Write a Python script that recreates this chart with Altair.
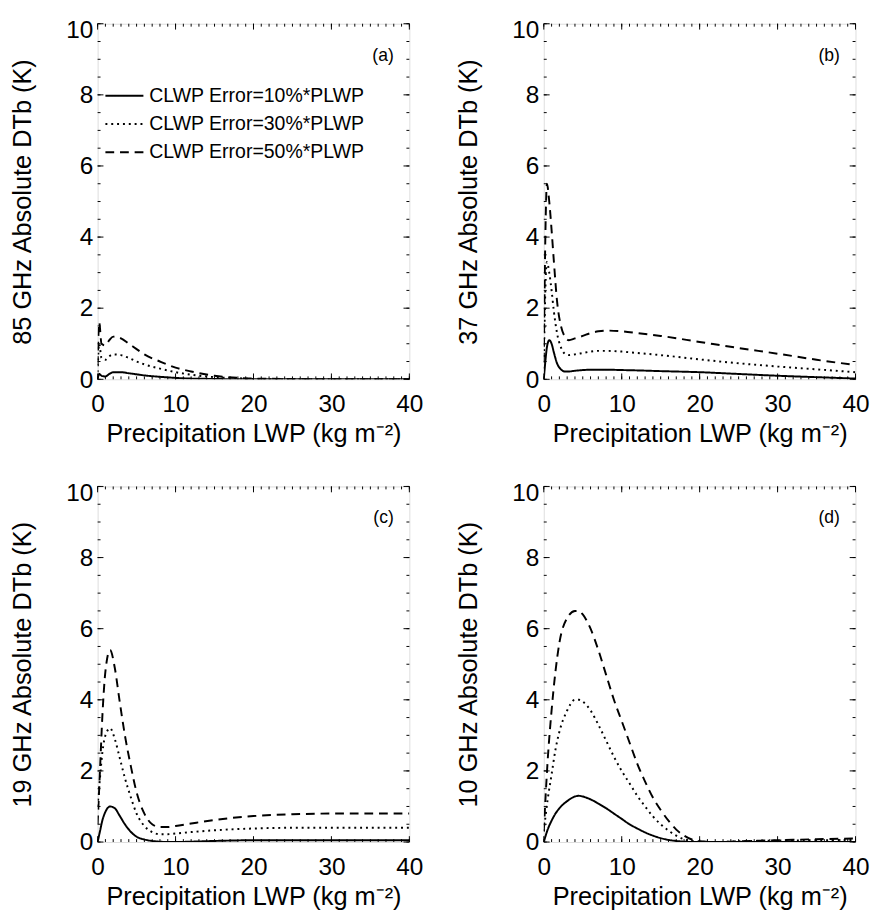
import altair as alt
import pandas as pd

SERIES = ["CLWP Error=10%*PLWP", "CLWP Error=30%*PLWP", "CLWP Error=50%*PLWP"]
DASHES = [[1, 0], [2, 4], [9, 6]]

# ---- panel (a) 85 GHz
A_X = [0, 0.2, 0.5, 1, 1.5, 2, 3, 4, 5, 6, 8, 10, 12, 15, 18, 20, 25, 30, 35, 40]
A_10 = [0.0, 0.15, 0.1, 0.08, 0.15, 0.2, 0.2, 0.17, 0.14, 0.11, 0.07, 0.04, 0.02, 0.01, 0, 0, 0, 0, 0, 0]
A_30 = [0.2, 1.0, 0.6, 0.55, 0.65, 0.7, 0.68, 0.6, 0.5, 0.42, 0.3, 0.2, 0.13, 0.06, 0.03, 0.01, 0, 0, 0, 0]
A_50 = [0.4, 1.6, 1.0, 0.95, 1.1, 1.2, 1.15, 1.0, 0.85, 0.7, 0.5, 0.33, 0.22, 0.1, 0.04, 0.02, 0.01, 0, 0, 0]

# ---- panel (b) 37 GHz
B_X = [0, 0.2, 0.4, 0.7, 1.0, 1.3, 1.7, 2.2, 2.7, 3.2, 4, 5, 6, 7, 8, 10, 12, 15, 20, 25, 30, 35, 40]
B_10 = [0.0, 0.5, 0.9, 1.1, 1.0, 0.75, 0.45, 0.28, 0.22, 0.22, 0.24, 0.26, 0.27, 0.27, 0.27, 0.26, 0.25, 0.23, 0.2, 0.15, 0.1, 0.06, 0.02]
B_30 = [0.3, 2.5, 3.3, 3.0, 2.5, 1.9, 1.3, 0.9, 0.72, 0.68, 0.7, 0.74, 0.78, 0.8, 0.8, 0.78, 0.74, 0.68, 0.56, 0.45, 0.36, 0.28, 0.2]
B_50 = [0.5, 4.0, 5.5, 5.0, 4.2, 3.3, 2.2, 1.5, 1.2, 1.1, 1.15, 1.22, 1.3, 1.35, 1.37, 1.35, 1.3, 1.22, 1.05, 0.88, 0.72, 0.55, 0.4]

# ---- panel (c) 19 GHz
C_X = [0, 0.3, 0.6, 1.0, 1.6, 2.2, 2.8, 3.5, 4.2, 5, 6, 7, 8, 9, 10, 12, 15, 20, 25, 30, 35, 40]
C_10 = [0.0, 0.3, 0.6, 0.85, 1.0, 0.95, 0.75, 0.5, 0.3, 0.15, 0.07, 0.03, 0.01, 0, 0, 0.01, 0.03, 0.05, 0.05, 0.05, 0.05, 0.05]
C_30 = [1.0, 1.8, 2.5, 3.0, 3.2, 2.9, 2.4, 1.8, 1.3, 0.8, 0.45, 0.28, 0.22, 0.22, 0.24, 0.28, 0.33, 0.38, 0.4, 0.4, 0.4, 0.4]
C_50 = [0.5, 2.0, 3.5, 4.8, 5.4, 4.9, 4.0, 3.0, 2.2, 1.4, 0.8, 0.5, 0.42, 0.42, 0.45, 0.52, 0.62, 0.73, 0.78, 0.8, 0.8, 0.8]

# ---- panel (d) 10 GHz
D_X = [0, 0.5, 1, 1.5, 2, 3, 4, 4.5, 5, 6, 7, 8, 9, 10, 11, 12, 13, 14, 15, 16, 17, 18, 19, 20, 22, 25, 30, 35, 40]
D_10 = [0.0, 0.35, 0.6, 0.8, 0.95, 1.15, 1.28, 1.3, 1.28, 1.2, 1.08, 0.95, 0.8, 0.65, 0.5, 0.38, 0.27, 0.18, 0.11, 0.06, 0.03, 0.01, 0, 0, 0, 0, 0, 0, 0]
D_30 = [0.3, 1.2, 1.9, 2.6, 3.1, 3.7, 4.0, 4.0, 3.95, 3.7, 3.3, 2.85, 2.4, 2.0, 1.65, 1.3, 1.0, 0.72, 0.5, 0.32, 0.18, 0.08, 0.03, 0.01, 0.0, 0.02, 0.04, 0.05, 0.06]
D_50 = [0.3, 2.3, 3.7, 4.8, 5.6, 6.3, 6.5, 6.5, 6.4, 6.0, 5.4, 4.7, 4.0, 3.4, 2.8, 2.2, 1.7, 1.25, 0.9, 0.6, 0.35, 0.18, 0.07, 0.02, 0.0, 0.02, 0.05, 0.08, 0.1]

PANEL_LABELS = ["(a)", "(b)", "(c)", "(d)"]
Y_TITLES = ["85 GHz Absolute DTb (K)", "37 GHz Absolute DTb (K)",
            "19 GHz Absolute DTb (K)", "10 GHz Absolute DTb (K)"]
X_TITLE = "Precipitation LWP (kg m\u207b\u00b2)"

X_MAJOR = [0, 10, 20, 30, 40]
X_MINOR = list(range(0, 41))
Y_MAJOR = [0, 2, 4, 6, 8, 10]
Y_MINOR = [v / 2 for v in range(0, 21)]

W, H = 320, 365
FONT = "Liberation Sans"
MAJ, MIN = 6, 3

x_scale = alt.Scale(domain=[0, 40], nice=False, zero=False)
y_scale = alt.Scale(domain=[0, 10], nice=False, zero=False)
dash_scale = alt.Scale(domain=SERIES, range=DASHES)


def x_axis():
    return alt.Axis(title=X_TITLE, values=X_MAJOR, ticks=False, domain=False, grid=False,
                    labelFlush=False, labelPadding=13, titlePadding=5,
                    labelFontSize=25, titleFontSize=26, titleFontWeight="normal",
                    labelFont=FONT, titleFont=FONT, format="d")


def y_axis(idx):
    return alt.Axis(title=Y_TITLES[idx], values=Y_MAJOR, ticks=False, domain=False, grid=False,
                    labelFlush=False, labelPadding=5, titlePadding=31,
                    labelFontSize=25, titleFontSize=26, titleFontWeight="normal",
                    labelFont=FONT, titleFont=FONT, format="d",
                    labelOffset={"condition": {"test": "datum.value == 10", "value": 6}, "value": 0})


def tick_layers(idx):
    layers = []
    for vals, ln in ((X_MINOR, MIN), (X_MAJOR, MAJ)):
        d = pd.DataFrame({"x": vals})
        xe = alt.X("x:Q", scale=x_scale, axis=x_axis())
        layers.append(alt.Chart(d).mark_rule(color="black", strokeWidth=1).encode(
            x=xe, y=alt.value(H), y2=alt.value(H - ln)))
        layers.append(alt.Chart(d).mark_rule(color="black", strokeWidth=1).encode(
            x=xe, y=alt.value(0), y2=alt.value(ln)))
    for vals, ln in ((Y_MINOR, MIN), (Y_MAJOR, MAJ)):
        d = pd.DataFrame({"value": vals})
        ye = alt.Y("value:Q", scale=y_scale, axis=y_axis(idx))
        layers.append(alt.Chart(d).mark_rule(color="black", strokeWidth=1).encode(
            y=ye, x=alt.value(0), x2=alt.value(ln)))
        layers.append(alt.Chart(d).mark_rule(color="black", strokeWidth=1).encode(
            y=ye, x=alt.value(W), x2=alt.value(W - ln)))
    return layers


def panel(idx, xs, ys_list, legend=False):
    rows = []
    for s, ys in zip(SERIES, ys_list):
        for xv, yv in zip(xs, ys):
            rows.append({"x": xv, "value": yv, "series": s})
    df = pd.DataFrame(rows)
    lines = alt.Chart(df).mark_line(color="black", strokeWidth=2, interpolate="monotone", clip=True).encode(
        x=alt.X("x:Q", scale=x_scale, axis=x_axis()),
        y=alt.Y("value:Q", scale=y_scale, axis=y_axis(idx)),
        strokeDash=alt.StrokeDash("series:N", scale=dash_scale, legend=None),
        detail="series:N",
    )
    lab = alt.Chart(pd.DataFrame({"t": [PANEL_LABELS[idx]]})).mark_text(
        align="right", baseline="middle", fontSize=18, font=FONT, color="black").encode(
        text="t:N", x=alt.value(W - 16), y=alt.value(33))
    layers = [lines] + tick_layers(idx) + [lab]
    if legend:
        for i, s in enumerate(SERIES):
            yy = 74 + 29 * i
            d = pd.DataFrame({"series": [s]})
            layers.append(alt.Chart(d).mark_rule(color="black", strokeWidth=2).encode(
                x=alt.value(8), x2=alt.value(47), y=alt.value(yy),
                strokeDash=alt.StrokeDash("series:N", scale=dash_scale, legend=None)))
            layers.append(alt.Chart(d).mark_text(align="left", baseline="middle", fontSize=20,
                                                 font=FONT, color="black").encode(
                text="series:N", x=alt.value(53), y=alt.value(yy)))
    return alt.layer(*layers).properties(width=W, height=H)


pa = panel(0, A_X, [A_10, A_30, A_50], legend=True)
pb = panel(1, B_X, [B_10, B_30, B_50])
pc = panel(2, C_X, [C_10, C_30, C_50])
pd_ = panel(3, D_X, [D_10, D_30, D_50])

chart = alt.vconcat(
    alt.hconcat(pa, pb, spacing=32),
    alt.hconcat(pc, pd_, spacing=32),
    spacing=33,
).properties(
    padding={"left": 1, "top": -3, "right": 5, "bottom": 2}
).configure_view(
    stroke="black", strokeWidth=1.5
).configure_axis(
    labelFont=FONT, titleFont=FONT, labelColor="black", titleColor="black",
    titleFontWeight="normal"
).configure(background="white")

chart.save("out.html", embed_options={"renderer": "svg", "actions": False})
